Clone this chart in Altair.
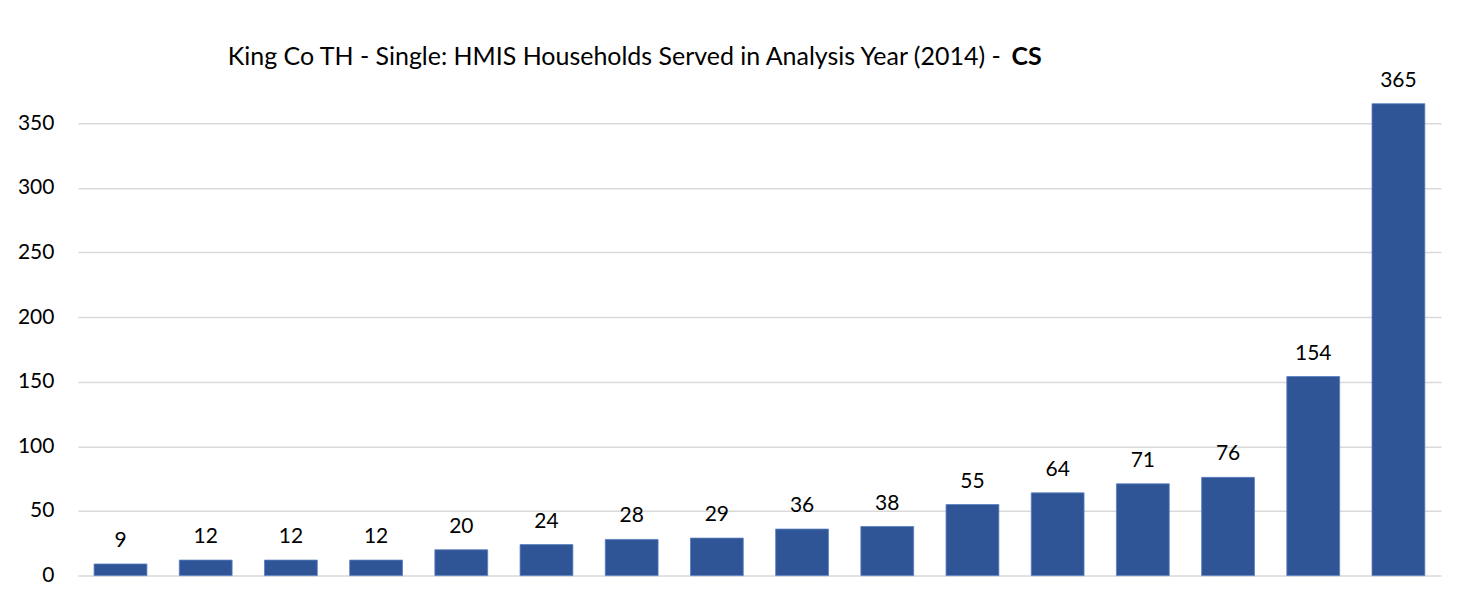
import altair as alt
import pandas as pd

categories = [f"P{i:02d}" for i in range(1, 17)]
values = [9, 12, 12, 12, 20, 24, 28, 29, 36, 38, 55, 64, 71, 76, 154, 365]
y_ticks = [0, 50, 100, 150, 200, 250, 300, 350]
title_main = "King Co TH - Single: HMIS Households Served in Analysis Year (2014) -"
title_bold = "CS"

df = pd.DataFrame({"cat": categories, "val": values})

FONT = "Lato"
W, H = 1365, 492

base = alt.Chart(df).encode(
    x=alt.X("cat:N", sort=categories, axis=None,
            scale=alt.Scale(paddingInner=0.38, paddingOuter=0.19)),
    y=alt.Y("val:Q", scale=alt.Scale(domain=[0, 380], nice=False),
            axis=alt.Axis(values=y_ticks, title=None, domain=False, ticks=False,
                          labelPadding=24, labelFontSize=21, labelFont=FONT,
                          labelColor="#000000", gridColor="#D9D9D9", gridWidth=1.5)),
)

bars = base.mark_bar(color="#2F5597", stroke="#5B7FC0", strokeWidth=0.8)
labels = base.mark_text(dy=-17, baseline="alphabetic", fontSize=21, font=FONT,
                        color="#000000").encode(text="val:Q")

title_df = pd.DataFrame({"t": [title_main]})
bold_df = pd.DataFrame({"t": [title_bold]})

main_title = alt.Chart(title_df).mark_text(
    align="left", baseline="alphabetic", fontSize=25, font=FONT,
    color="#000000"
).encode(x=alt.value(150), y=alt.value(-19), text="t:N")

bold = alt.Chart(bold_df).mark_text(
    align="left", baseline="alphabetic", fontSize=25, font=FONT, fontWeight="bold",
    color="#000000"
).encode(x=alt.value(935), y=alt.value(-19), text="t:N")

chart = alt.layer(bars, labels, main_title, bold).properties(
    width=W, height=H,
    autosize=alt.AutoSizeParams(type="none"),
    padding={"left": 70, "top": 76, "right": 20, "bottom": 12},
).configure_view(stroke=None)

chart.save("out.html", embed_options={"renderer": "svg", "actions": False})
